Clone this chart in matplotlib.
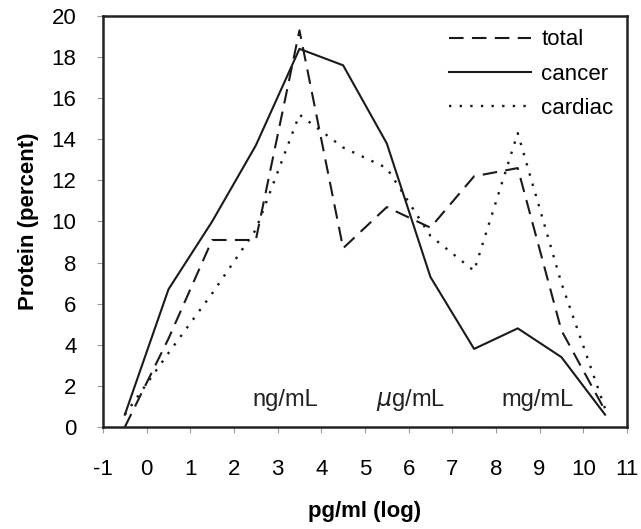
import matplotlib.pyplot as plt
import numpy as np

plt.rcParams['font.family'] = ['Liberation Sans', 'DejaVu Sans']
plt.rcParams['axes.unicode_minus'] = False

# x positions (log pg/ml, bin centres)
x_vals = [-0.5, 0.5, 1.5, 2.5, 3.5, 4.5, 5.5, 6.5, 7.5, 8.5, 9.5, 10.5]

total = [0.0, 4.3, 9.1, 9.1, 19.3, 8.7, 10.7, 9.7, 12.2, 12.6, 4.7, 0.8]
cancer = [0.6, 6.7, 10.0, 13.7, 18.4, 17.6, 13.8, 7.3, 3.8, 4.8, 3.4, 0.6]
cardiac = [0.6, 3.6, 6.5, 9.6, 15.2, 13.6, 12.6, 9.3, 7.6, 14.3, 7.0, 0.9]

x_ticks = list(range(-1, 12))
y_ticks = list(range(0, 21, 2))

unit_labels = ["ng/mL", "$\\mu$g/mL", "mg/mL"]
unit_x = [3.17, 6.05, 8.96]
unit_y = [1.3, 1.3, 1.3]

fig = plt.figure(figsize=(6.41, 5.29), dpi=100)
ax = fig.add_axes([0.1607, 0.1928, 0.8173, 0.777])

col = '#1a1a1a'
ax.plot(x_vals, total, color=col, linewidth=1.5, linestyle=(0, (7, 4)), label='total')
ax.plot(x_vals, cancer, color=col, linewidth=1.5, linestyle='-', label='cancer')
ax.plot(x_vals, cardiac, color=col, linewidth=1.7, linestyle=(0, (1, 3.5)), label='cardiac')

for lab, ux, uy in zip(unit_labels, unit_x, unit_y):
    ax.text(ux, uy, lab, ha='center', va='center', fontsize=17, color='#222222')

ax.set_xlim(-1, 11)
ax.set_ylim(0, 20)
ax.set_xticks(x_ticks)
ax.set_yticks(y_ticks)
ax.tick_params(axis='both', labelsize=16, direction='out', length=4, color='#999999', width=0.8)
ax.tick_params(axis='x', pad=19)
ax.tick_params(axis='y', pad=15)

for s in ax.spines.values():
    s.set_linewidth(1.8)
    s.set_color('#222222')

ax.set_xlabel("pg/ml (log)", fontsize=16, fontweight='bold', labelpad=15)
ax.set_ylabel("Protein (percent)", fontsize=16, fontweight='bold', labelpad=9)

ax.legend(loc='upper right', bbox_to_anchor=(1.0, 1.0), frameon=False, fontsize=16,
          handlelength=3.7, labelspacing=0.6, handletextpad=0.45, borderaxespad=0.2)

fig.savefig("out.png", dpi=100)
